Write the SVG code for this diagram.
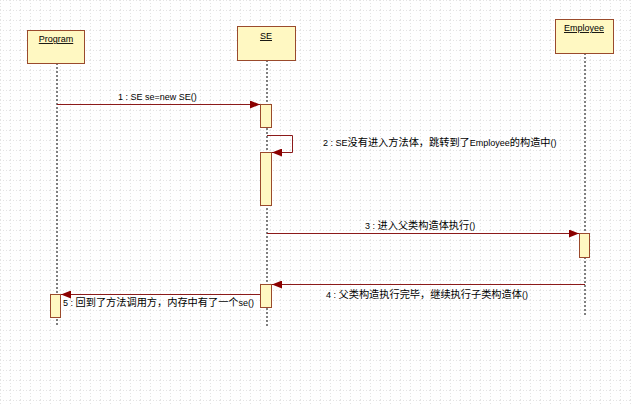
<svg xmlns="http://www.w3.org/2000/svg" width="631" height="405" viewBox="0 0 631 405">
<style>
.box{fill:#FFF8C2;stroke:#9A4A2C;stroke-width:1}
.act{fill:#FFF8C2;stroke:#9A4A2C;stroke-width:1}
.life{stroke:#000;stroke-width:1;stroke-dasharray:2,2;fill:none}
.msg{stroke:#8B1A1A;stroke-width:1;fill:none;marker-end:url(#arr)}
.t{font-family:"Liberation Sans","DejaVu Sans",sans-serif;font-size:9px;fill:#000}
.hd{text-decoration:underline;text-anchor:middle}
.c{font-family:"Noto Sans CJK SC",sans-serif;font-size:10.2px}
</style>
<defs>
<pattern id="grid" width="10" height="10" patternUnits="userSpaceOnUse">
<path d="M0 0.5H10" stroke="#e4e4e4" stroke-width="1" stroke-dasharray="1,2"/>
<path d="M0.5 0V10" stroke="#e4e4e4" stroke-width="1" stroke-dasharray="1,2"/>
</pattern>
<marker id="arr" markerWidth="10" markerHeight="8" refX="10" refY="4" orient="auto" markerUnits="userSpaceOnUse">
<path d="M0 0L10 4L0 8Z" fill="#8B0000"/>
</marker>
</defs>
<rect width="631" height="405" fill="#fff"/>
<rect width="631" height="405" fill="url(#grid)"/>

<g id="lifelines">
<path class="life" d="M57 63V327"/>
<path class="life" d="M267 60V327"/>
<path class="life" d="M585 53V317"/>
</g>

<g id="Program">
<rect class="box" x="27.5" y="30.5" width="57" height="33"/>
<text class="t hd" x="56" y="42">Program</text>
<rect class="act" x="50.5" y="294.5" width="10" height="23"/>
</g>

<g id="SE">
<rect class="box" x="237.5" y="26.5" width="58" height="34"/>
<text class="t hd" x="266" y="39">SE</text>
<rect class="act" x="260.5" y="104.5" width="11" height="23"/>
<rect class="act" x="260.5" y="152.5" width="11" height="53"/>
<rect class="act" x="260.5" y="284.5" width="11" height="23"/>
</g>

<g id="Employee">
<rect class="box" x="555.5" y="19.5" width="58" height="34"/>
<text class="t hd" x="584" y="31">Employee</text>
<rect class="act" x="579.5" y="233.5" width="10" height="24"/>
</g>

<g id="connectors">
<path class="msg" d="M57 104.5H260"/>
<path class="msg" d="M267 135.5H292.5V152.5H272"/>
<path class="msg" d="M267 233.5H579"/>
<path class="msg" d="M585 284.5H272"/>
<path class="msg" d="M260 294.5H61"/>
</g>

<g id="labels">
<text class="t" x="118" y="100">1 : SE se=new SE()</text>
<text class="t" x="323" y="146">2 : SE<tspan class="c">没有进入方法体，跳转到了</tspan>Employee<tspan class="c">的构造中</tspan>()</text>
<text class="t" x="365" y="229">3 : <tspan class="c">进入父类构造体执行</tspan>()</text>
<text class="t" x="326" y="298">4 : <tspan class="c">父类构造执行完毕，继续执行子类构造体</tspan>()</text>
<text class="t" x="63" y="306">5 : <tspan class="c">回到了方法调用方，内存中有了一个</tspan>se()</text>
</g>
</svg>
